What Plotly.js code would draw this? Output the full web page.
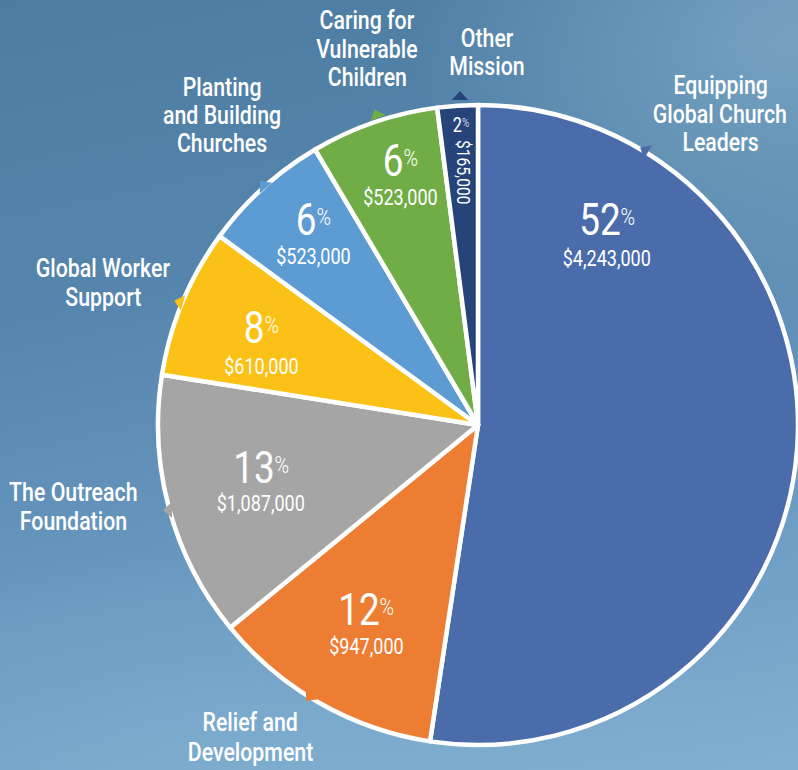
<!DOCTYPE html>
<html>
<head>
<meta charset="utf-8">
<script src="https://cdn.plot.ly/plotly-3.0.1.min.js"></script>
<style>
html,body{margin:0;padding:0;}
#chart{width:798px;height:770px;
background:
 radial-gradient(ellipse 380px 280px at 790px 40px, rgba(128,172,200,0.75), rgba(128,172,200,0) 100%),
 radial-gradient(ellipse 520px 240px at 250px 780px, rgba(128,176,208,0.6), rgba(128,176,208,0) 100%),
 linear-gradient(168deg, #4d7ca2 0%, #5686ad 35%, #6b9bc2 70%, #82b0d1 100%);}
#chart text.annotation-text{transform:scaleX(0.82);transform-box:fill-box;transform-origin:50% 50%;}
</style>
</head>
<body>
<div id="chart"></div>
<script>
var categories = ["Equipping Global Church Leaders","Relief and Development","The Outreach Foundation","Global Worker Support","Planting and Building Churches","Caring for Vulnerable Children","Other Mission"];
var labelLines = [["Equipping","Global Church","Leaders"],["Relief and","Development"],["The Outreach","Foundation"],["Global Worker","Support"],["Planting","and Building","Churches"],["Caring for","Vulnerable","Children"],["Other","Mission"]];
var values = [4243000, 947000, 1087000, 610000, 523000, 523000, 165000];
var valueLabels = ["$4,243,000","$947,000","$1,087,000","$610,000","$523,000","$523,000","$165,000"];
var colors = ["#4a6cab","#ed7d33","#a5a5a5","#fbc116","#5d9bd3","#70ad46","#26447a"];

var W = 798, H = 770;
var FONT = "Roboto,'Liberation Sans',sans-serif";
var total = values.reduce(function(a,b){return a+b;},0);
var pct = values.map(function(v){return Math.round(v/total*100);});

// layout positions (pixels): [group centre x, digits centre y, value centre y]
var inPos = [[607,219,258],[366,609,646],[261,467,503],[261,327,366],[313,219,256],[400,160,197],[461,125,172]];
// outside label: centre x, first line y, line spacing
var outPos = [[720,85,28.5],[250,722,30],[73,492,29],[103,268,29],[222,87,28],[367,20,28.5],[487,38,28]];
var tri = [[648,152,-60],[312,694,-140],[172,510,-90],[183,303,-75],[266,188,-40],[378,118,-20],[460,100,0]];

var annotations = [];
for (var i=0;i<categories.length;i++){
  var p = inPos[i];
  if (i < 6) {
    annotations.push({x:p[0], y:p[1], xref:'x', yref:'y', showarrow:false,
      text: pct[i] + '<span style="font-size:24px;font-weight:300;baseline-shift:10px">%</span>', yanchor:'middle', xanchor:'center',
      font:{family:FONT, size:45, color:'white', weight:400}});
    annotations.push({x:p[0], y:p[2], xref:'x', yref:'y', showarrow:false,
      text: valueLabels[i], font:{family:FONT, size:22, color:'white', weight:400}});
  } else {
    annotations.push({x:p[0], y:p[1], xref:'x', yref:'y', showarrow:false,
      text: pct[i] + '<span style="font-size:12px;font-weight:300;baseline-shift:5px">%</span>', font:{family:FONT, size:20, color:'white', weight:400}});
    annotations.push({x:p[0]+3, y:p[2], xref:'x', yref:'y', showarrow:false, textangle:90,
      text: valueLabels[i], font:{family:FONT, size:19, color:'white', weight:400}});
  }
  var o = outPos[i];
  for (var k=0;k<labelLines[i].length;k++){
    annotations.push({x:o[0], y:o[1]+k*o[2], xref:'x', yref:'y', showarrow:false,
      text: labelLines[i][k], yanchor:'middle',
      font:{family:FONT, size:26, color:'white', weight:500}});
  }
}

var shapes = [];
for (var j=0;j<tri.length;j++){
  var t = tri[j], a = t[2]*Math.PI/180, s = 9;
  var dx = Math.sin(a), dy = -Math.cos(a);
  var px = -dy, py = dx;
  var tip = [t[0]+dx*s, t[1]+dy*s];
  var b1 = [t[0]+px*s*0.9, t[1]+py*s*0.9];
  var b2 = [t[0]-px*s*0.9, t[1]-py*s*0.9];
  shapes.push({type:'path', xref:'x', yref:'y', layer:'above',
    path:'M'+tip[0]+','+tip[1]+' L'+b1[0]+','+b1[1]+' L'+b2[0]+','+b2[1]+' Z',
    fillcolor: colors[j], line:{width:0}});
}

var trace = {
  type:'pie', values:values, labels:categories, sort:false, direction:'clockwise', rotation:0,
  marker:{colors:colors, line:{color:'white', width:4.5}},
  textinfo:'none', hoverinfo:'label+value', showlegend:false,
  domain:{x:[158/W, 798/W], y:[25/H, 665/H]}
};

var layout = {
  width:W, height:H, margin:{l:0,r:0,t:0,b:0},
  paper_bgcolor:'rgba(0,0,0,0)', plot_bgcolor:'rgba(0,0,0,0)',
  xaxis:{range:[0,W], visible:false, fixedrange:true, domain:[0,1]},
  yaxis:{range:[H,0], visible:false, fixedrange:true, domain:[0,1]},
  annotations:annotations, shapes:shapes, showlegend:false
};

Plotly.newPlot('chart', [trace], layout, {staticPlot:true, displayModeBar:false});
</script>
</body>
</html>
